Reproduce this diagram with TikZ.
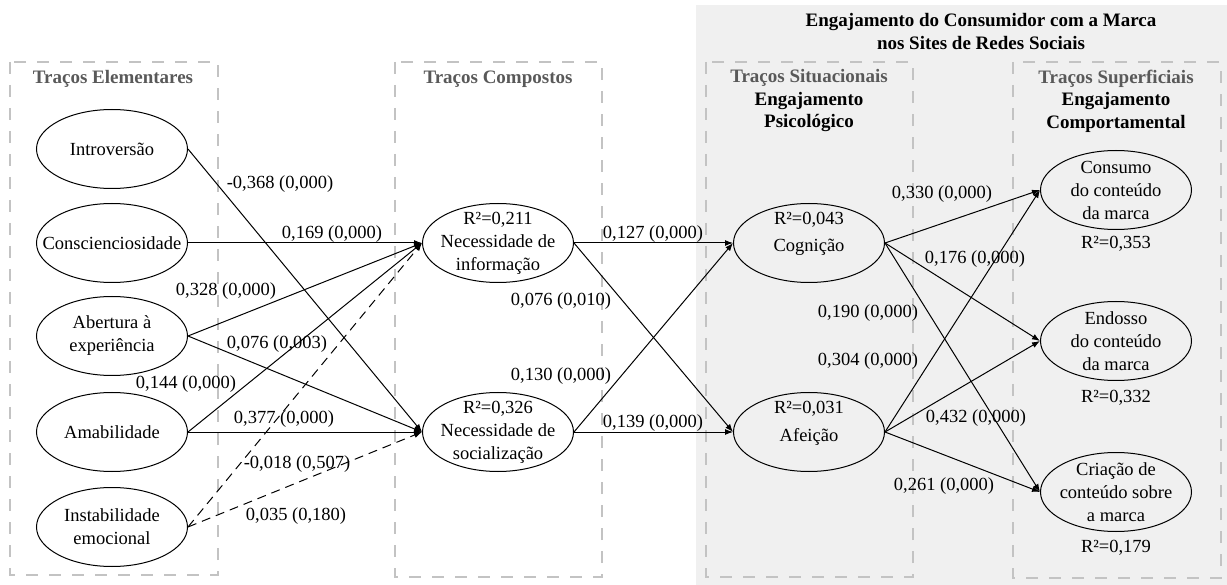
\documentclass[tikz,border=0pt]{standalone}
\usepackage{fontspec}
\setmainfont{Liberation Serif}
\usetikzlibrary{shapes.geometric,arrows.meta}

\definecolor{panelgray}{HTML}{F0F0F0}
\definecolor{framegray}{HTML}{C3C3C3}
\definecolor{headgray}{HTML}{595959}

\begin{document}
\begin{tikzpicture}[x=1pt,y=-1pt,
  font=\fontsize{18.5}{23}\selectfont,
  constructshape/.style={draw, ellipse, line width=1pt, minimum width=151pt,
    minimum height=79pt, inner sep=0pt},
  construct/.style={constructshape,
    label={[align=center, inner sep=0pt]center:#1}},
  liftedconstruct/.style={constructshape,
    label={[align=center, inner sep=0pt, yshift=9pt]center:#1}},
  groupframe/.style={draw=framegray, line width=2.4pt, dash pattern=on 12pt off 11pt},
  link/.style={line width=1pt, -{Latex[length=8pt,width=6pt]}},
  weaklink/.style={link, dash pattern=on 9pt off 6pt},
  coef/.style={inner sep=0pt},
  grouptitle/.style={inner sep=0pt, align=center, font=\fontsize{19}{22.5}\selectfont\bfseries},
  rsq/.style={inner sep=0pt}
]
\useasboundingbox (0,0) rectangle (1227,585);

% shaded panel for the brand engagement constructs
\fill[panelgray] (696,5) rectangle (1227,585);

% dashed group frames
\draw[groupframe] (10,62) rectangle (218,575);
\draw[groupframe] (395,62) rectangle (602,577);
\draw[groupframe] (706,62) rectangle (913,577);
\draw[groupframe] (1013,62) rectangle (1221,578);

% group headings
\node[grouptitle] (head) at (981,31.5) {Engajamento do Consumidor com a Marca\\nos Sites de Redes Sociais};
\node[grouptitle, text=headgray] (elem) at (113,79) {Traços Elementares};
\node[grouptitle, text=headgray] (comp) at (498,79) {Traços Compostos};
\node[grouptitle] (situ) at (809,101) {\textcolor{headgray}{Traços Situacionais}\\Engajamento\\Psicológico};
\node[grouptitle] (super) at (1116,101) {\textcolor{headgray}{Traços Superficiais}\\Engajamento\\Comportamental};

% elementary traits
\node[construct={Introversão}] (intro) at (112,149) {};
\node[construct={Conscienciosidade}] (consc) at (112,243) {};
\node[construct={Abertura à\\experiência}] (abert) at (112,336) {};
\node[construct={Amabilidade}] (amab) at (112,432) {};
\node[construct={Instabilidade\\emocional}] (instab) at (112,527) {};

% compound traits
\node[construct={R²=0,211\\Necessidade de\\informação}] (info) at (498,243) {};
\node[construct={R²=0,326\\Necessidade de\\socialização}] (soc) at (498,432) {};

% psychological engagement
\node[liftedconstruct={R²=0,043\\[4pt]Cognição}] (cog) at (809,243) {};
\node[liftedconstruct={R²=0,031\\[5pt]Afeição}] (afe) at (809,432) {};

% behavioural engagement
\node[construct={Consumo\\do conteúdo\\da marca}] (cons) at (1116,190) {};
\node[construct={Endosso\\do conteúdo\\da marca}] (endo) at (1116,341) {};
\node[construct={Criação de\\conteúdo sobre\\a marca}] (cria) at (1116,492) {};
\node[rsq] (rcons) at (1116,244) {R²=0,353};
\node[rsq] (rendo) at (1116,398) {R²=0,332};
\node[rsq] (rcria) at (1116,548) {R²=0,179};

% paths: elementary -> compound
\draw[link] (intro.east) -- (soc.west);
\draw[link] (consc.east) -- (info.west);
\draw[link] (abert.east) -- (info.west);
\draw[link] (abert.east) -- (soc.west);
\draw[link] (amab.east) -- (info.west);
\draw[link] (amab.east) -- (soc.west);
\draw[weaklink] (instab.east) -- (info.west);
\draw[weaklink] (instab.east) -- (soc.west);

% paths: compound -> psychological
\draw[link] (info.east) -- (cog.west);
\draw[link] (info.east) -- (afe.west);
\draw[link] (soc.east) -- (cog.west);
\draw[link] (soc.east) -- (afe.west);

% paths: psychological -> behavioural
\draw[link] (cog.east) -- (cons.west);
\draw[link] (cog.east) -- (endo.west);
\draw[link] (cog.east) -- (cria.west);
\draw[link] (afe.east) -- (cons.west);
\draw[link] (afe.east) -- (endo.west);
\draw[link] (afe.east) -- (cria.west);

% path coefficients (p-values)
\node[coef] (c1) at (280,184) {-0,368 (0,000)};
\node[coef] (c2) at (332,234) {0,169 (0,000)};
\node[coef] (c3) at (226,291) {0,328 (0,000)};
\node[coef] (c4) at (277,344) {0,076 (0,003)};
\node[coef] (c5) at (186,384) {0,144 (0,000)};
\node[coef] (c6) at (284,419) {0,377 (0,000)};
\node[coef] (c7) at (297,464) {-0,018 (0,507)};
\node[coef] (c8) at (296,516) {0,035 (0,180)};
\node[coef] (c9) at (653,234) {0,127 (0,000)};
\node[coef] (c10) at (561,301) {0,076 (0,010)};
\node[coef] (c11) at (561,376) {0,130 (0,000)};
\node[coef] (c12) at (653,423) {0,139 (0,000)};
\node[coef] (c13) at (942,194) {0,330 (0,000)};
\node[coef] (c14) at (975,259) {0,176 (0,000)};
\node[coef] (c15) at (868,313) {0,190 (0,000)};
\node[coef] (c16) at (868,361) {0,304 (0,000)};
\node[coef] (c17) at (976,418) {0,432 (0,000)};
\node[coef] (c18) at (944,486) {0,261 (0,000)};
\end{tikzpicture}
\end{document}
